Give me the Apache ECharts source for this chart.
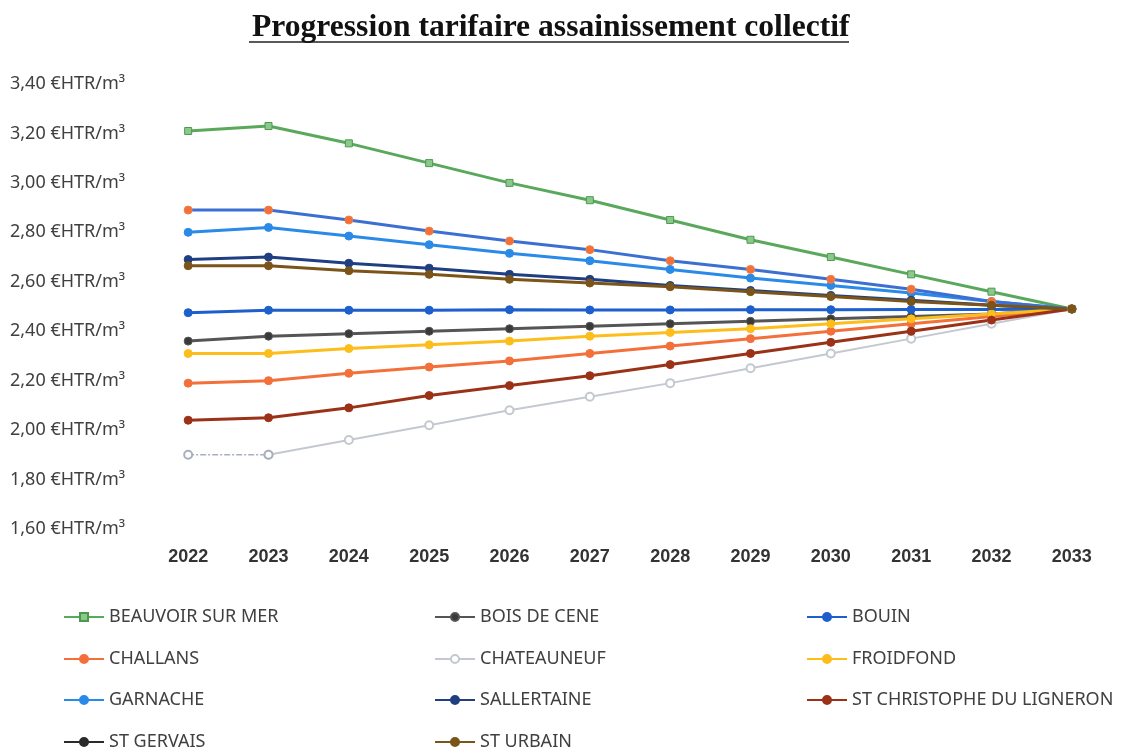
<!DOCTYPE html>
<html>
<head>
<meta charset="utf-8">
<script src="https://cdn.jsdelivr.net/npm/echarts@6/dist/echarts.min.js"></script>
<style>
  html, body { margin: 0; padding: 0; background: #ffffff; }
  #chart { width: 1123px; height: 748px; }
</style>
</head>
<body>
<div id="chart"></div>
<script>
// Years on the horizontal axis
const years = ['2022','2023','2024','2025','2026','2027','2028','2029','2030','2031','2032','2033'];

// Collective sanitation tariff per commune (€ HT / m³)
const beauvoirSurMer   = [3.21, 3.23, 3.16, 3.08, 3.00, 2.93, 2.85, 2.77, 2.70, 2.63, 2.56, 2.49];
const boisDeCene       = [2.36, 2.38, 2.39, 2.40, 2.41, 2.42, 2.43, 2.44, 2.45, 2.46, 2.47, 2.49];
const bouin            = [2.475, 2.485, 2.485, 2.485, 2.487, 2.486, 2.486, 2.487, 2.487, 2.488, 2.488, 2.49];
const challans         = [2.19, 2.20, 2.23, 2.255, 2.28, 2.31, 2.34, 2.37, 2.40, 2.43, 2.46, 2.49];
const chateauneuf      = [1.90, 1.90, 1.96, 2.02, 2.08, 2.135, 2.19, 2.25, 2.31, 2.37, 2.43, 2.49];
const froidfond        = [2.31, 2.31, 2.33, 2.345, 2.36, 2.38, 2.395, 2.41, 2.43, 2.45, 2.47, 2.49];
const garnache         = [2.80, 2.82, 2.785, 2.75, 2.715, 2.685, 2.65, 2.615, 2.585, 2.555, 2.52, 2.49];
const sallertaine      = [2.69, 2.70, 2.675, 2.655, 2.63, 2.61, 2.585, 2.565, 2.545, 2.525, 2.505, 2.49];
const stChristophe     = [2.04, 2.05, 2.09, 2.14, 2.18, 2.22, 2.265, 2.31, 2.355, 2.40, 2.445, 2.49];
const stGervais        = [2.89, 2.89, 2.85, 2.805, 2.765, 2.73, 2.685, 2.65, 2.61, 2.57, 2.52, 2.49];
const stUrbain         = [2.665, 2.665, 2.645, 2.63, 2.61, 2.595, 2.58, 2.56, 2.54, 2.52, 2.505, 2.49];

// Legend rows (three columns)
const legendRows = [
  ['BEAUVOIR SUR MER', 'BOIS DE CENE', 'BOUIN'],
  ['CHALLANS', 'CHATEAUNEUF', 'FROIDFOND'],
  ['GARNACHE', 'SALLERTAINE', 'ST CHRISTOPHE DU LIGNERON'],
  ['ST GERVAIS', 'ST URBAIN']
];

const fmtTick = v => v.toFixed(2).replace('.', ',') + ' €HTR/m³';

function line(name, data, color, opts) {
  opts = opts || {};
  return {
    name: name,
    type: 'line',
    data: data,
    symbol: opts.symbol || 'circle',
    symbolSize: opts.symbolSize || 8,
    showSymbol: true,
    connectNulls: false,
    lineStyle: { color: opts.lineColor || color, width: opts.width || 3, type: opts.lineType || 'solid' },
    itemStyle: { color: opts.markerColor || color, borderColor: opts.markerBorder || color, borderWidth: 1 },
    emphasis: { disabled: true },
    z: opts.z || 2
  };
}

// CHATEAUNEUF: dashed between the first two years, solid afterwards
const chateauSolid = chateauneuf.map((v, i) => i === 0 ? null : v);
const chateauDashed = chateauneuf.map((v, i) => i <= 1 ? v : null);

const series = [
  line('BEAUVOIR SUR MER', beauvoirSurMer, '#5aa85c', { symbol: 'rect', symbolSize: 7, markerColor: '#8cc88c', markerBorder: '#4a9a4e' }),
  line('BOIS DE CENE', boisDeCene, '#555555', { markerColor: '#3a3a3a' }),
  line('BOUIN', bouin, '#1d5fcc'),
  line('CHALLANS', challans, '#f4703a'),
  line('CHATEAUNEUF', chateauSolid, '#c4c8d0', { symbol: 'emptyCircle', width: 2, markerBorder: '#aeb4c0' }),
  line('CHATEAUNEUF', chateauDashed, '#a8b0c0', { symbol: 'emptyCircle', width: 1.5, lineType: [6, 2, 2, 2], markerBorder: '#aeb4c0' }),
  line('FROIDFOND', froidfond, '#fdbd1a'),
  line('GARNACHE', garnache, '#2a8ae8'),
  line('SALLERTAINE', sallertaine, '#1f3f82'),
  line('ST CHRISTOPHE DU LIGNERON', stChristophe, '#9b3218'),
  line('ST GERVAIS', stGervais, '#2b2b2b', { lineColor: '#3b70d2', markerColor: '#f4703a', markerBorder: '#f08040' }),
  line('ST URBAIN', stUrbain, '#7a5418')
];

// One legend entry per slot of a 3-column grid
const legendColX = [58, 429, 801];
const legendRowY = [603, 645, 686, 728];
const legends = [];
legendRows.forEach((row, r) => row.forEach((name, c) => {
  legends.push({
    orient: 'horizontal',
    left: legendColX[c],
    top: legendRowY[r],
    itemWidth: 40,
    itemHeight: 10,
    textStyle: { fontFamily: 'Noto Sans', fontSize: 18, color: '#404040' },
    selectedMode: false,
    data: [name === 'ST GERVAIS'
      ? { name: name, itemStyle: { color: '#2b2b2b', borderColor: '#2b2b2b' }, lineStyle: { color: '#2b2b2b' } }
      : { name: name }]
  });
}));

const chart = echarts.init(document.getElementById('chart'), null, { renderer: 'canvas' });
chart.setOption({
  backgroundColor: '#ffffff',
  animation: false,
  title: {
    text: 'Progression tarifaire assainissement collectif',
    left: 247,
    top: 7,
    textStyle: { fontFamily: 'Liberation Serif', fontWeight: 'bold', fontSize: 31.6, color: '#111111' }
  },
  graphic: [{
    type: 'line',
    shape: { x1: 249, y1: 42, x2: 849, y2: 42 },
    style: { stroke: '#222222', lineWidth: 1.5 }
  }],
  legend: legends,
  grid: { left: 148, right: 11, top: 84, bottom: 219, containLabel: false },
  xAxis: {
    type: 'category',
    data: years,
    boundaryGap: true,
    axisLine: { show: false },
    axisTick: { show: false },
    axisLabel: { margin: 19, fontFamily: 'Liberation Sans', fontWeight: 'bold', fontSize: 18, color: '#333333' }
  },
  yAxis: {
    type: 'value',
    min: 1.6,
    max: 3.4,
    interval: 0.2,
    axisLine: { show: false },
    axisTick: { show: false },
    splitLine: { show: false },
    axisLabel: {
      align: 'left',
      margin: 138,
      formatter: fmtTick,
      fontFamily: 'Noto Sans',
      fontSize: 18,
      color: '#404040'
    }
  },
  series: series
});
</script>
</body>
</html>
